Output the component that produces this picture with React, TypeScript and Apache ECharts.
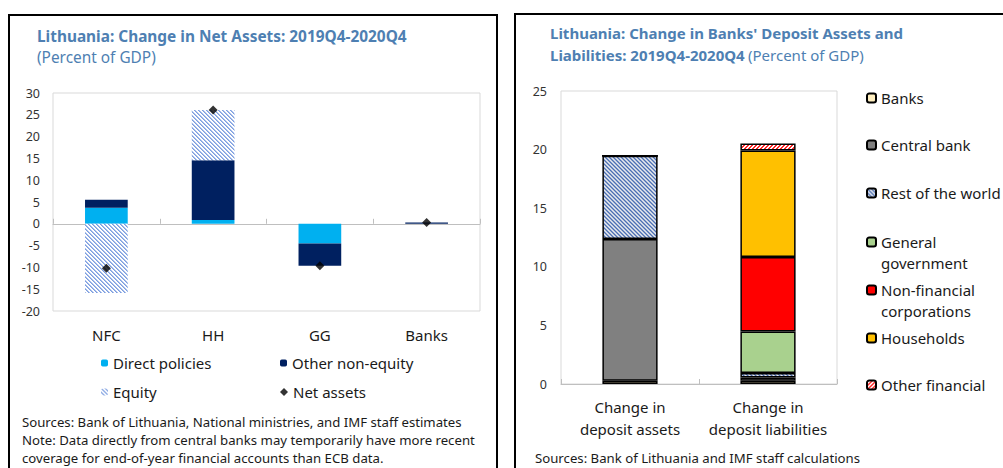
import React, { useEffect, useRef } from "react";
import * as echarts from "echarts";

// ---------- Left chart data ----------
const netCategories = ["NFC", "HH", "GG", "Banks"];
const directPolicies = [3.7, 0.9, -4.5, 0];
const otherNonEquity = [1.8, 13.7, -5.1, 0.3];
const equity = [-15.9, 11.5, 0, 0];
const netAssets = [-10.2, 26.1, -9.6, 0.3];
const netAxis = { min: -20, max: 30, interval: 5 };

// ---------- Right chart data ----------
const depCategories = ["Change in\ndeposit assets", "Change in\ndeposit liabilities"];
const depBanks = [0.28, 0.28];
const depCentralBank = [12.1, 0.28];
const depRestOfWorld = [7.1, 0.37];
const depGeneralGov = [0, 3.55];
const depNonFinCorp = [0, 6.35];
const depHouseholds = [0, 9.1];
const depOtherFin = [0, 0.6];
const depAxis = { min: 0, max: 25, interval: 5 };

const FONT = "'Noto Sans', 'Open Sans', sans-serif";
const TITLE_COLOR = "#4e7fb2";

function hex(c: string): number[] {
  const h = c.replace("#", "");
  return [parseInt(h.slice(0, 2), 16), parseInt(h.slice(2, 4), 16), parseInt(h.slice(4, 6), 16)];
}

function makePattern(size: number, fn: (x: number, y: number) => string) {
  const c = document.createElement("canvas");
  c.width = size;
  c.height = size;
  const ctx = c.getContext("2d")!;
  const img = ctx.createImageData(size, size);
  for (let y = 0; y < size; y++) {
    for (let x = 0; x < size; x++) {
      const [r, g, b] = hex(fn(x, y));
      const i = (y * size + x) * 4;
      img.data[i] = r;
      img.data[i + 1] = g;
      img.data[i + 2] = b;
      img.data[i + 3] = 255;
    }
  }
  ctx.putImageData(img, 0, 0);
  return { image: c.toDataURL(), repeat: "repeat", imageWidth: size, imageHeight: size } as any;
}

export default function App() {
  const ref = useRef<HTMLDivElement>(null);
  useEffect(() => {
    if (!ref.current) return;
    const chart = echarts.init(ref.current, undefined, { renderer: "svg" });

    const equityPattern = makePattern(4, (x, y) => {
      const m = (((x - y) % 4) + 4) % 4;
      return m === 0 ? "#7d9ee0" : m === 1 ? "#a9bfea" : "#ffffff";
    });
    const rowPattern = makePattern(4, (x, y) => {
      const m = (((x - y) % 4) + 4) % 4;
      return m === 0 ? "#4a6fb5" : m === 1 ? "#93a7cf" : m === 2 ? "#e6eaf1" : "#b4bfd3";
    });
    const ofPattern = makePattern(4, (x, y) => {
      const m = (x + y) % 4;
      return m === 0 || m === 1 ? "#ff2a2a" : "#ffffff";
    });

    const depBar = (name: string, data: number[], color: any) => ({
      name,
      type: "bar",
      xAxisIndex: 2,
      yAxisIndex: 1,
      stack: "dep",
      barWidth: "40%",
      data,
      itemStyle: { color, borderColor: "#000", borderWidth: 1.5 },
    });

    const legendText = { fontFamily: FONT, fontSize: 15, color: "#1a1a1a", lineHeight: 20 };
    const rLegendText = { fontFamily: FONT, fontSize: 15, color: "#1a1a1a", lineHeight: 21 };
    const leftLegend = (name: string, left: number, top: number, icon?: string) => ({
      data: [icon ? { name, icon } : name],
      left,
      top,
      padding: 0,
      itemWidth: icon ? 8 : 7,
      itemHeight: icon ? 8 : 7,
      textStyle: legendText,
      selectedMode: false,
    });
    const rightLegend = (name: string, top: number, twoLine?: string) => ({
      data: [name],
      left: 866,
      top,
      padding: 0,
      itemWidth: 9,
      itemHeight: 9,
      selectedMode: false,
      formatter: twoLine ? () => twoLine : undefined,
      textStyle: rLegendText,
    });

    const footFont = `13.2px ${FONT}`;

    const option: any = {
      animation: false,
      backgroundColor: "#fff",
      textStyle: { fontFamily: FONT },
      grid: [
        { left: 53, top: 93, width: 427, height: 218, show: true, borderColor: "#d9d9d9", borderWidth: 1 },
        { left: 561, top: 91, width: 276, height: 293, show: true, borderColor: "#d9d9d9", borderWidth: 1 },
      ],
      xAxis: [
        {
          gridIndex: 0,
          type: "category",
          data: netCategories,
          position: "bottom",
          axisLine: { show: false, onZero: false },
          axisTick: { show: false },
          axisLabel: { fontFamily: FONT, fontSize: 15, color: "#1a1a1a", margin: 16, interval: 0 },
        },
        {
          gridIndex: 0,
          type: "category",
          data: netCategories,
          position: "bottom",
          axisLine: { show: true, onZero: true, lineStyle: { color: "#bfbfbf", width: 1 } },
          axisTick: { show: true, inside: true, length: 5, lineStyle: { color: "#bfbfbf" } },
          axisLabel: { show: false },
        },
        {
          gridIndex: 1,
          type: "category",
          data: depCategories,
          axisLine: { show: true, lineStyle: { color: "#bfbfbf", width: 1 } },
          axisTick: { show: true, inside: true, length: 5, lineStyle: { color: "#bfbfbf" } },
          axisLabel: { fontFamily: FONT, fontSize: 15, color: "#1a1a1a", margin: 12, lineHeight: 22, interval: 0 },
        },
      ],
      yAxis: [
        {
          gridIndex: 0,
          type: "value",
          min: netAxis.min,
          max: netAxis.max,
          interval: netAxis.interval,
          splitLine: { show: false },
          axisLine: { show: false },
          axisTick: { show: false },
          axisLabel: { fontFamily: FONT, fontSize: 12.5, color: "#333", margin: 13 },
        },
        {
          gridIndex: 1,
          type: "value",
          min: depAxis.min,
          max: depAxis.max,
          interval: depAxis.interval,
          splitLine: { show: false },
          axisLine: { show: false },
          axisTick: { show: false },
          axisLabel: { fontFamily: FONT, fontSize: 12.5, color: "#333", margin: 14 },
        },
      ],
      legend: [
        leftLegend("Direct policies", 101, 353),
        leftLegend("Other non-equity", 280, 353),
        leftLegend("Equity", 101, 382),
        leftLegend("Net assets", 280, 382, "diamond"),
        rightLegend("Banks", 87.5),
        rightLegend("Central bank", 134.5),
        rightLegend("Rest of the world", 182.5),
        rightLegend("General government", 210.5, "\nGeneral\ngovernment"),
        rightLegend("Non-financial corporations", 258.5, "\nNon-financial\ncorporations"),
        rightLegend("Households", 327.5),
        rightLegend("Other financial", 374.5),
      ],
      series: [
        {
          name: "Direct policies",
          type: "bar",
          xAxisIndex: 0,
          yAxisIndex: 0,
          stack: "net",
          barWidth: "40%",
          data: directPolicies,
          itemStyle: { color: "#00b0f0" },
        },
        {
          name: "Other non-equity",
          type: "bar",
          xAxisIndex: 0,
          yAxisIndex: 0,
          stack: "net",
          data: otherNonEquity,
          itemStyle: { color: "#002060" },
        },
        {
          name: "Equity",
          type: "bar",
          xAxisIndex: 0,
          yAxisIndex: 0,
          stack: "net",
          data: equity,
          itemStyle: { color: equityPattern },
        },
        {
          name: "Net assets",
          type: "scatter",
          xAxisIndex: 0,
          yAxisIndex: 0,
          symbol: "diamond",
          symbolSize: 9,
          data: netAssets,
          itemStyle: { color: "#000" },
          z: 5,
        },
        depBar("Banks", depBanks, "#ffefc0"),
        depBar("Central bank", depCentralBank, "#808080"),
        depBar("Rest of the world", depRestOfWorld, rowPattern),
        depBar("General government", depGeneralGov, "#a9d18e"),
        depBar("Non-financial corporations", depNonFinCorp, "#ff0000"),
        depBar("Households", depHouseholds, "#ffc000"),
        depBar("Other financial", depOtherFin, ofPattern),
      ],
      graphic: [
        { type: "rect", shape: { x: 9, y: 15, width: 488, height: 470 }, style: { fill: "none", stroke: "#000", lineWidth: 2 }, silent: true },
        { type: "rect", shape: { x: 515, y: 14, width: 500, height: 470 }, style: { fill: "none", stroke: "#000", lineWidth: 2 }, silent: true },
        {
          type: "text",
          x: 37,
          y: 36,
          style: { text: "Lithuania: Change in Net Assets: 2019Q4-2020Q4", font: `bold 15.4px ${FONT}`, fill: TITLE_COLOR, verticalAlign: "middle" },
        },
        {
          type: "text",
          x: 37,
          y: 57,
          style: { text: "(Percent of GDP)", font: `15.4px ${FONT}`, fill: TITLE_COLOR, verticalAlign: "middle" },
        },
        {
          type: "text",
          x: 22,
          y: 422,
          style: {
            text: "Sources: Bank of Lithuania, National ministries, and IMF staff estimates",
            font: footFont,
            fill: "#1a1a1a",
            verticalAlign: "middle",
          },
        },
        {
          type: "text",
          x: 22,
          y: 440,
          style: {
            text: "Note: Data directly from central banks may temporarily have more recent",
            font: footFont,
            fill: "#1a1a1a",
            verticalAlign: "middle",
          },
        },
        {
          type: "text",
          x: 22,
          y: 458,
          style: {
            text: "coverage for end-of-year financial accounts than ECB data.",
            font: footFont,
            fill: "#1a1a1a",
            verticalAlign: "middle",
          },
        },
        {
          type: "text",
          x: 550,
          y: 33,
          style: { text: "Lithuania: Change in Banks' Deposit Assets and", font: `bold 15px ${FONT}`, fill: TITLE_COLOR, verticalAlign: "middle" },
        },
        {
          type: "text",
          x: 550,
          y: 55,
          style: {
            text: "{b|Liabilities: 2019Q4-2020Q4} {n|(Percent of GDP)}",
            verticalAlign: "middle",
            rich: {
              b: { font: `bold 15px ${FONT}`, fill: TITLE_COLOR },
              n: { font: `15px ${FONT}`, fill: TITLE_COLOR },
            },
          },
        },
        {
          type: "text",
          x: 535,
          y: 458,
          style: {
            text: "Sources: Bank of Lithuania and IMF staff calculations",
            font: footFont,
            fill: "#1a1a1a",
            verticalAlign: "middle",
          },
        },
      ],
    };
    chart.setOption(option);
    return () => chart.dispose();
  }, []);
  return <div ref={ref} style={{ position: "fixed", left: 0, top: 0, width: 1003, height: 468, background: "#fff" }} />;
}
